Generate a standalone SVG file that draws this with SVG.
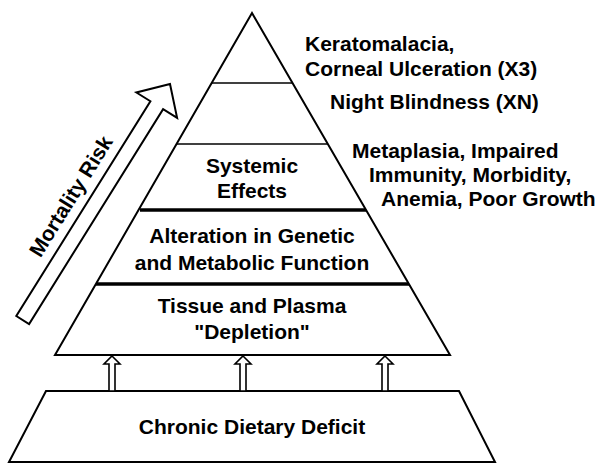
<svg xmlns="http://www.w3.org/2000/svg" width="604" height="463" viewBox="0 0 604 463">
<style>
.shape{fill:#fff;stroke:#000;stroke-width:2;stroke-linejoin:miter}
.thin{stroke:#000;stroke-width:1.4}
.thick{stroke:#000;stroke-width:3.5}
.t{font-family:"Liberation Sans",Arial,sans-serif;font-weight:bold;font-size:21px;fill:#000}
.c{text-anchor:middle}
.up{fill:#fff;stroke:#000;stroke-width:1.6}
</style>
<rect width="604" height="463" fill="#fff"/>
<g id="pyramid">
<polygon class="shape" points="252,13 450,355 55,355"/>
</g>
<g id="level-corneal">
<line class="thin" x1="211.5" y1="83" x2="292.5" y2="83"/>
<text class="t" x="305" y="51">Keratomalacia,</text>
<text class="t" x="305" y="76">Corneal Ulceration (X3)</text>
</g>
<g id="level-night">
<line class="thin" x1="176.5" y1="144" x2="328" y2="144"/>
<text class="t" x="330" y="109">Night Blindness (XN)</text>
</g>
<g id="level-systemic">
<line class="thick" x1="140" y1="210" x2="366" y2="210"/>
<text class="t c" x="252" y="173">Systemic</text>
<text class="t c" x="252" y="198">Effects</text>
<text class="t" x="352" y="158">Metaplasia, Impaired</text>
<text class="t" x="369" y="182">Immunity, Morbidity,</text>
<text class="t" x="381" y="206">Anemia, Poor Growth</text>
</g>
<g id="level-alteration">
<line class="thick" x1="96" y1="284" x2="409" y2="284"/>
<text class="t c" x="252" y="243">Alteration in Genetic</text>
<text class="t c" x="252" y="270">and Metabolic Function</text>
</g>
<g id="level-tissue">
<text class="t c" x="252" y="313">Tissue and Plasma</text>
<text class="t c" x="252" y="339">"Depletion"</text>
</g>
<g id="chronic-deficit">
<polygon class="shape" points="46,391 459,391 495,462 9,462"/>
<text class="t c" x="252" y="434">Chronic Dietary Deficit</text>
</g>
<g id="connectors">
<polygon class="up" points="112,356 120,364 115,364 115,391 109,391 109,364 104,364"/>
<polygon class="up" points="243,356 251,364 246,364 246,391 240,391 240,364 235,364"/>
<polygon class="up" points="385,356 393,364 388,364 388,391 382,391 382,364 377,364"/>
</g>
<g id="mortality-risk">
<polygon class="shape" points="170,84 177.1,117.9 163.1,109.2 29.1,324 16.3,316 150.4,101.2 136.4,92.5"/>
<text class="t c" transform="translate(77,200) rotate(-58)" x="0" y="0">Mortality Risk</text>
</g>
</svg>
